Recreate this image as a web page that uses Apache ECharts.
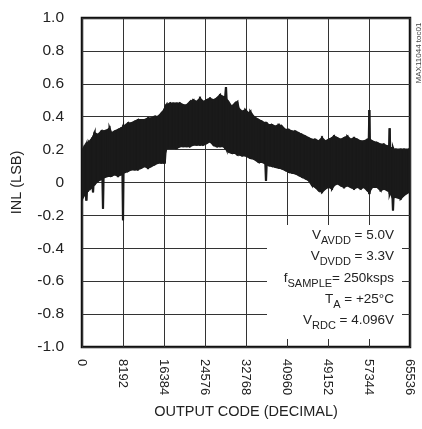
<!DOCTYPE html>
<html>
<head>
<meta charset="utf-8">
<script src="https://cdn.jsdelivr.net/npm/echarts@6/dist/echarts.min.js"></script>
<style>
html,body{margin:0;padding:0;background:#fff;}
#chart{width:422px;height:429px;}
</style>
</head>
<body>
<div id="chart"></div>
<script>
// Output codes (x) with upper / lower envelope of the INL band (LSB)
const codes = [0,200,533,750,866,1000,1199,1865,2100,2200,2300,2531,3197,3863,4080,4196,4310,5195,5500,5861,6527,7193,7859,8080,8192,8300,9191,9857,10523,11189,11855,12521,13187,13853,14519,15185,15851,16400,16550,16700,16916,17582,18248,18914,19580,20246,20912,21578,22244,22910,23576,24242,24908,25574,26240,26906,27572,28238,28600,28770,28900,29237,29903,30569,31035,31300,31968,32634,33300,33633,34299,35298,35964,36630,36763,36900,37296,37962,38628,39294,39960,40626,41292,41958,42624,43290,43956,44622,45288,45954,46620,47286,47952,48618,49284,49950,50350,51016,51682,52348,53014,53680,54346,55012,55678,56344,57010,57300,57410,57520,58009,59008,59674,60340,61006,61360,61472,61580,62030,62138,62250,62671,63670,64336,65335,65536];
const inlUpper = [0.19,0.20,0.22,0.22,0.23,0.23,0.24,0.26,0.27,0.27,0.28,0.30,0.29,0.31,0.31,0.31,0.31,0.32,0.33,0.30,0.31,0.32,0.33,0.33,0.34,0.34,0.36,0.36,0.37,0.38,0.38,0.38,0.39,0.39,0.40,0.40,0.42,0.44,0.45,0.46,0.47,0.48,0.48,0.48,0.48,0.47,0.47,0.49,0.50,0.49,0.51,0.49,0.50,0.51,0.50,0.51,0.53,0.52,0.52,0.58,0.50,0.49,0.46,0.48,0.49,0.45,0.43,0.44,0.42,0.43,0.40,0.38,0.37,0.36,0.36,0.36,0.35,0.35,0.34,0.35,0.34,0.32,0.32,0.31,0.31,0.30,0.29,0.28,0.27,0.26,0.26,0.25,0.27,0.25,0.26,0.27,0.28,0.27,0.26,0.27,0.28,0.26,0.27,0.26,0.25,0.25,0.26,0.26,0.44,0.26,0.25,0.24,0.23,0.23,0.22,0.22,0.33,0.21,0.21,0.21,0.20,0.20,0.20,0.20,0.20,0.21];
const inlLower = [-0.06,-0.09,-0.07,-0.06,-0.11,-0.05,-0.05,-0.03,-0.02,-0.06,-0.01,-0.01,0.01,0.02,0.02,-0.16,0.03,0.04,0.04,0.04,0.05,0.04,0.05,0.05,-0.23,0.06,0.07,0.08,0.08,0.08,0.09,0.10,0.09,0.10,0.11,0.12,0.12,0.12,0.12,0.19,0.21,0.21,0.21,0.21,0.22,0.22,0.22,0.22,0.23,0.23,0.23,0.23,0.24,0.25,0.23,0.22,0.22,0.22,0.21,0.21,0.20,0.19,0.18,0.18,0.17,0.17,0.165,0.165,0.155,0.15,0.145,0.125,0.125,0.115,0.01,0.11,0.105,0.10,0.095,0.09,0.085,0.075,0.065,0.06,0.055,0.045,0.035,0.025,0.014,-0.016,-0.027,-0.047,-0.057,-0.037,-0.027,-0.037,-0.017,-0.006,-0.017,-0.027,-0.017,-0.027,-0.037,-0.027,-0.037,-0.027,-0.047,-0.05,-0.07,-0.05,-0.027,-0.027,-0.047,-0.037,-0.047,-0.05,-0.07,-0.06,-0.09,-0.17,-0.09,-0.088,-0.098,-0.077,-0.057,-0.06];
const xTicks = [0,8192,16384,24576,32768,40960,49152,57344,65536];
const notes = [
  ['V', 'AVDD', ' = 5.0V'],
  ['V', 'DVDD', ' = 3.3V'],
  ['f', 'SAMPLE', '= 250ksps'],
  ['T', 'A', ' = +25°C'],
  ['V', 'RDC', ' = 4.096V']
];

const FONT = "'Liberation Sans', Arial, sans-serif";
const TXT = '#222';
const INK = '#1a1a1a';
const chart = echarts.init(document.getElementById('chart'), null, {renderer: 'canvas'});

// band segments built from the envelope arrays
const segments = [];
for (let i = 0; i < codes.length - 1; i++) {
  segments.push([codes[i], inlUpper[i], inlLower[i], codes[i + 1], inlUpper[i + 1], inlLower[i + 1]]);
}

const noteY = [237, 258, 280, 301, 322];
const graphics = [
  {type: 'rect', z: 50, shape: {x: 267, y: 225, width: 135, height: 114}, style: {fill: '#fff'}},
  {type: 'text', z: 60, x: 419, y: 53, rotation: Math.PI / 2,
   style: {text: 'MAX11044 toc01', fill: '#444', font: "8px " + FONT, align: 'center', verticalAlign: 'middle'}}
];
notes.forEach((n, i) => {
  graphics.push({
    type: 'text', z: 60, x: 394, y: noteY[i],
    style: {
      text: '{m|' + n[0] + '}{s|' + n[1] + '}{m|' + n[2] + '}',
      align: 'right', verticalAlign: 'middle',
      rich: {
        m: {fontSize: 13.5, fontFamily: FONT, fill: TXT, verticalAlign: 'bottom', padding: [0, 0, 4, 0]},
        s: {fontSize: 11, fontFamily: FONT, fill: TXT, verticalAlign: 'bottom'}
      }
    }
  });
});

chart.setOption({
  animation: false,
  backgroundColor: '#fff',
  grid: {left: 82, right: 12, top: 18, bottom: 82, show: true, borderColor: '#111', borderWidth: 2.5, backgroundColor: 'transparent'},
  xAxis: {
    type: 'value', min: 0, max: 65536, interval: 8192,
    name: 'OUTPUT CODE (DECIMAL)', nameLocation: 'middle', nameGap: 57,
    nameTextStyle: {fontFamily: FONT, fontSize: 14.5, color: TXT},
    axisLine: {show: false}, axisTick: {show: false},
    axisLabel: {rotate: -90, margin: 12, fontFamily: FONT, fontSize: 13, color: TXT,
      formatter: v => xTicks.indexOf(v) >= 0 ? String(v) : ''},
    splitLine: {show: true, lineStyle: {color: '#333', width: 1}}
  },
  yAxis: {
    type: 'value', min: -1, max: 1, interval: 0.2,
    name: 'INL (LSB)', nameLocation: 'middle', nameGap: 58, nameRotate: 90,
    nameTextStyle: {fontFamily: FONT, fontSize: 14.5, color: TXT},
    axisLine: {show: false}, axisTick: {show: false},
    axisLabel: {margin: 18, fontFamily: FONT, fontSize: 15.5, color: TXT,
      formatter: v => Math.abs(v) < 1e-9 ? '0' : v.toFixed(1)},
    splitLine: {show: true, lineStyle: {color: '#333', width: 1}}
  },
  series: [{
    type: 'custom', clip: true, z: 5,
    data: segments,
    encode: {x: [0, 3], y: [1, 2, 4, 5]},
    renderItem: (params, api) => {
      const pts = [
        api.coord([api.value(0), api.value(1)]),
        api.coord([api.value(3), api.value(4)]),
        api.coord([api.value(3), api.value(5)]),
        api.coord([api.value(0), api.value(2)])
      ];
      return {type: 'polygon', shape: {points: pts}, style: {fill: INK, stroke: INK, lineWidth: 2.1, lineJoin: 'miter'}};
    }
  }],
  graphic: graphics
});
</script>
</body>
</html>
